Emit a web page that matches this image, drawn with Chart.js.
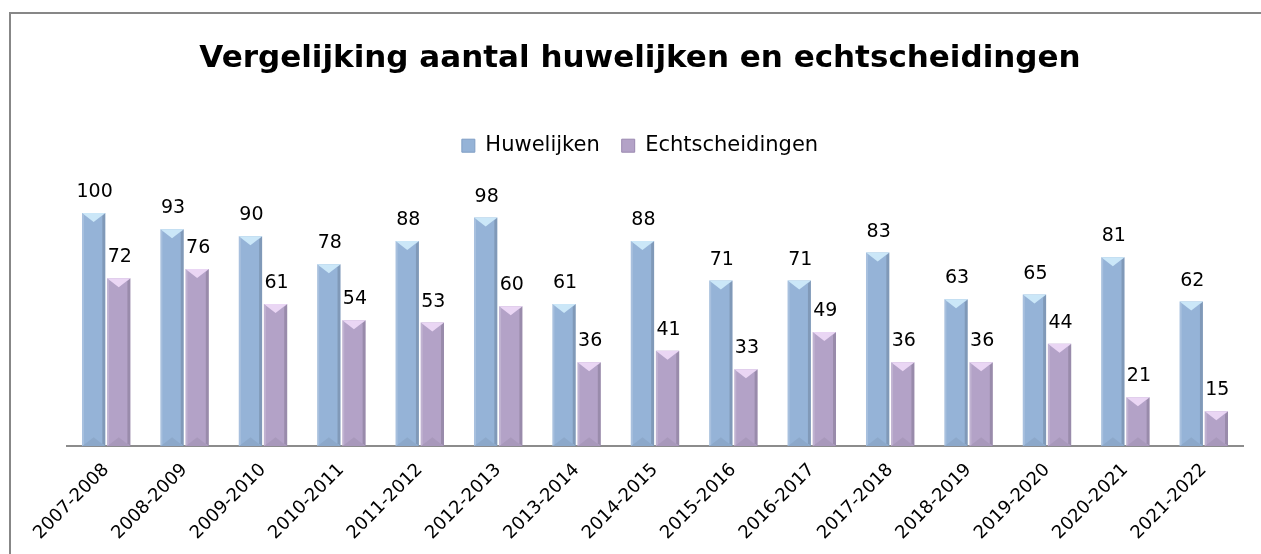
<!DOCTYPE html>
<html>
<head>
<meta charset="utf-8">
<script src="https://cdn.jsdelivr.net/npm/chart.js@4"></script>
<style>
  html, body { margin: 0; padding: 0; background: #fff; overflow: hidden; }
  .frame { position: absolute; left: 9px; top: 12px; width: 1400px; height: 700px;
           border-left: 2px solid #878787; border-top: 2px solid #878787; }
  .wrap { position: absolute; left: 0; top: 0; width: 1261px; height: 554px; }
</style>
</head>
<body>
<div class="frame"></div>
<div class="wrap"><canvas id="marriageChart"></canvas></div>
<script>
// ===== DATA =====
const periods = ['2007-2008', '2008-2009', '2009-2010', '2010-2011', '2011-2012', '2012-2013', '2013-2014',
    '2014-2015', '2015-2016', '2016-2017', '2017-2018', '2018-2019', '2019-2020', '2020-2021', '2021-2022'];
const huwelijken = [100, 93, 90, 78, 88, 98, 61, 88, 71, 71, 83, 63, 65, 81, 62];
const echtscheidingen = [72, 76, 61, 54, 53, 60, 36, 41, 33, 49, 36, 36, 44, 21, 15];

const FONT = "'DejaVu Sans', sans-serif";
const faceColors = ['#95B3D7', '#B3A2C7'];
const topColors = ['#CBE7F8', '#EAD6F4'];

// bevel look of the excel bars
const bevelPlugin = {
    id: 'bevel',
    afterDatasetsDraw: function(chart) {
        const ctx = chart.ctx;
        function poly(pts, color) {
            ctx.beginPath();
            ctx.moveTo(pts[0][0], pts[0][1]);
            for (let i = 1; i < pts.length; i++) ctx.lineTo(pts[i][0], pts[i][1]);
            ctx.closePath();
            ctx.fillStyle = color;
            ctx.fill();
        }
        chart.data.datasets.forEach(function(ds, di) {
            chart.getDatasetMeta(di).data.forEach(function(bar) {
                const p = bar.getProps(['x', 'y', 'base', 'width'], true);
                const l = p.x - p.width / 2, r = p.x + p.width / 2;
                const d = Math.min(9, (p.base - p.y) / 2);
                ctx.save();
                poly([[l, p.y], [l + 2, p.y + 2], [l + 2, p.base - 2], [l, p.base]], 'rgba(255,255,255,0.18)');
                poly([[r, p.y], [r - 3, p.y + 3], [r - 3, p.base - 3], [r, p.base]], 'rgba(0,0,0,0.14)');
                poly([[l, p.y], [r, p.y], [p.x, p.y + d]], topColors[di]);
                poly([[l, p.base], [r, p.base], [p.x, p.base - d]], 'rgba(0,0,0,0.06)');
                ctx.restore();
            });
        });
    }
};

// value labels above the bars
const valueLabels = {
    id: 'valueLabels',
    afterDatasetsDraw: function(chart) {
        const ctx = chart.ctx;
        ctx.save();
        ctx.font = '19px ' + FONT;
        ctx.fillStyle = '#000';
        ctx.textAlign = 'center';
        ctx.textBaseline = 'alphabetic';
        chart.data.datasets.forEach(function(ds, di) {
            chart.getDatasetMeta(di).data.forEach(function(bar, i) {
                ctx.fillText(ds.data[i], bar.x + 1, bar.y - 16);
            });
        });
        ctx.restore();
    }
};

new Chart(document.getElementById('marriageChart'), {
    type: 'bar',
    data: {
        labels: periods,
        datasets: [
            {
                label: 'Huwelijken',
                data: huwelijken,
                backgroundColor: faceColors[0],
                borderColor: '#7F9DC4',
                borderWidth: 0,
                categoryPercentage: 0.64,
                barPercentage: 0.93
            },
            {
                label: 'Echtscheidingen',
                data: echtscheidingen,
                backgroundColor: faceColors[1],
                borderColor: '#9A88B0',
                borderWidth: 0,
                categoryPercentage: 0.64,
                barPercentage: 0.93
            }
        ]
    },
    options: {
        responsive: true,
        maintainAspectRatio: false,
        animation: false,
        layout: { padding: { left: 37, right: 18, top: 0, bottom: 5 } },
        plugins: {
            title: {
                display: true,
                text: 'Vergelijking aantal huwelijken en echtscheidingen',
                color: '#000',
                font: { family: FONT, size: 31, weight: 'bold' },
                padding: { top: 40, bottom: 36 }
            },
            legend: {
                display: true,
                labels: {
                    color: '#000',
                    font: { family: FONT, size: 21 },
                    boxWidth: 13,
                    boxHeight: 13,
                    padding: 22,
                    generateLabels: function(chart) {
                        return chart.data.datasets.map(function(ds, i) {
                            return {
                                text: ds.label,
                                fillStyle: faceColors[i],
                                strokeStyle: ds.borderColor,
                                lineWidth: 1,
                                datasetIndex: i
                            };
                        });
                    }
                }
            },
            tooltip: { enabled: false }
        },
        scales: {
            x: {
                grid: { display: false },
                border: { display: true, color: '#8C8C8C', width: 2 },
                ticks: {
                    color: '#000',
                    font: { family: FONT, size: 18 },
                    maxRotation: 45,
                    minRotation: 45,
                    padding: 5
                }
            },
            y: {
                display: true,
                min: 0,
                max: 120,
                grid: { display: false },
                border: { display: false },
                ticks: { display: false },
                afterFit: function(scale) { scale.width = 30; }
            }
        }
    },
    plugins: [bevelPlugin, valueLabels]
});
</script>
</body>
</html>
